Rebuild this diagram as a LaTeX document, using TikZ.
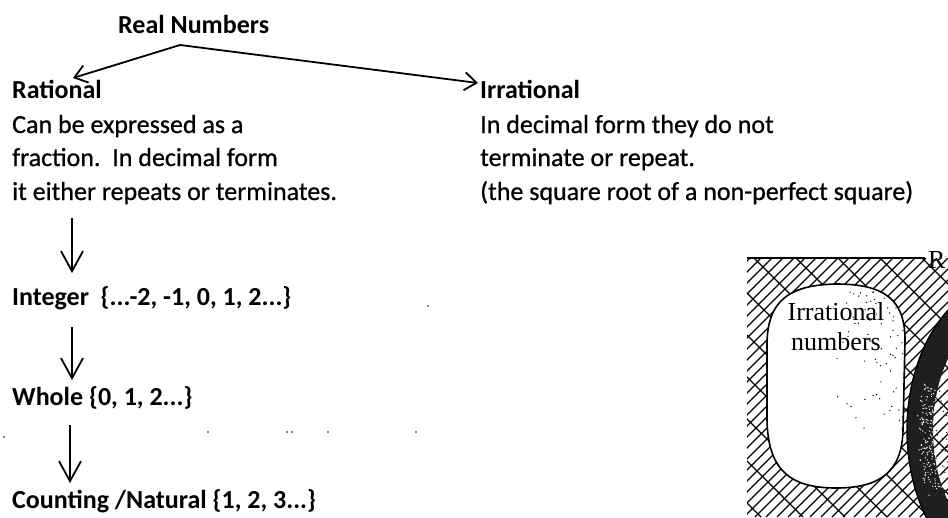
\documentclass[tikz,border=0pt]{standalone}
\usepackage{fontspec}
\setmainfont{Carlito}
\newfontfamily\bodyfont{Carlito}[FakeBold=0.7]
\newfontfamily\vennfont{Liberation Serif}
\usetikzlibrary{arrows.meta,calc}
\begin{document}
\begin{tikzpicture}[x=1pt,y=-1pt,
  txt/.style={anchor=base west, inner sep=0pt, font=\bodyfont\fontsize{26}{31}\selectfont},
  btxt/.style={anchor=base west, inner sep=0pt, font=\fontsize{26}{31}\selectfont\bfseries},
  varr/.style={line width=1.8pt, -{Straight Barb[length=20pt,width=22pt,line width=1.8pt]}},
  harr/.style={line width=1.8pt, -{Straight Barb[length=12pt,width=18pt,line width=1.8pt]}},
  hatch/.style={line width=1.2pt},
  speck/.style={fill=black, inner sep=0pt, minimum size=1.6pt, circle}]
\useasboundingbox (0,0) rectangle (948,517);
\fill[white] (0,0) rectangle (948,517);

% ---------- text ----------
\node[btxt] (real) at (118,33) {Real Numbers};
\node[btxt] (rational) at (12,98) {Rational};
\node[txt] (rat2) at (12,133) {Can be expressed as a};
\node[txt] (rat3) at (12,166) {fraction.\ \ In decimal form};
\node[txt] (rat4) at (12,200) {it either repeats or terminates.};
\node[btxt] (irrational) at (480,98) {Irrational};
\node[txt] (irr2) at (480,133) {In decimal form they do not};
\node[txt] (irr3) at (480,166) {terminate or repeat.};
\node[txt] (irr4) at (480,200) {(the square root of a non-perfect square)};
\node[btxt] (integer) at (12,305) {Integer\ \ \{...-2, -1, 0, 1, 2...\}};
\node[btxt] (whole) at (12,405) {Whole \{0, 1, 2...\}};
\node[btxt] (counting) at (12,508) {Counting /Natural \{1, 2, 3...\}};

% ---------- connectors ----------
\coordinate (split) at ($(real.base west)+(62,12)$);
\draw[harr] (split) -- ($(rational.base west)+(61,-20)$);
\draw[harr] (split) -- ($(irrational.base west)+(-2,-15)$);
\draw[varr] ($(rat4.base west)+(60,18)$) -- ($(integer.base west)+(60,-32)$);
\draw[varr] ($(integer.base west)+(60,22)$) -- ($(whole.base west)+(60,-25)$);
\draw[varr] ($(whole.base west)+(58,20)$) -- ($(counting.base west)+(58,-25)$);

% ---------- stray scan dots ----------
\foreach \p in {(428,306),(4,437),(208,432),(287,432),(292,432),(328,432),(416,432)}
  \node[speck] at \p {};

% ---------- Venn fragment ----------
\begin{scope}
\clip (747,258) rectangle (948,517);
\foreach \i in {480,491,...,950}
  \draw[hatch] (\i,517) -- ++(259,-259);
\foreach \i in {460,502,...,950}
  \draw[hatch] (\i,258) -- ++(259,259);
% crescent
\fill[black!88, even odd rule] (1010,430) ellipse [x radius=103, y radius=150]
  (1010,430) ellipse [x radius=77, y radius=120];
\draw[line width=1.4pt] (1010,430) ellipse [x radius=103, y radius=150];
\pgfmathsetseed{11}
\foreach \k in {1,...,160} {
  \pgfmathsetmacro{\ang}{160+50*rnd}
  \pgfmathsetmacro{\rr}{0.80+0.18*rnd}
  \fill[white] ({1010+\rr*95*cos(\ang)},{430-\rr*140*sin(\ang)}) circle (0.7);
}
\pgfmathsetseed{3}
\foreach \k in {1,...,25} {
  \fill ({935+13*rnd},{380+130*rnd}) circle (0.7);
}
% irrational blob
\path[save path=\blob] (767,420) -- (767,345) .. controls (767,300) and (790,285) .. (836,284)
  .. controls (885,284) and (905,300) .. (905,340) -- (903,430)
  .. controls (902,472) and (880,488) .. (836,488)
  .. controls (790,488) and (768,470) .. (767,420) -- cycle;
\fill[white, use path=\blob];
\begin{scope}
\clip[use path=\blob];
\pgfmathsetseed{5}
\foreach \k in {1,...,110} {
  \pgfmathsetmacro{\ux}{rnd}
  \pgfmathsetmacro{\uy}{rnd}
  \fill ({906-70*\ux*\ux},{292+140*\uy*\uy}) circle (0.7);
}
\end{scope}
\draw[line width=1.6pt, use path=\blob];
\end{scope}
\draw[line width=1.6pt] (747,258) -- (925,258);
\node[anchor=base west, inner sep=0pt, font=\vennfont\fontsize{26}{30}\selectfont] (rlabel) at (928,268) {R};
\node[align=center, inner sep=0pt, font=\vennfont\fontsize{26}{30}\selectfont] (irrnum) at (836,327) {Irrational\\numbers};
\end{tikzpicture}
\end{document}
